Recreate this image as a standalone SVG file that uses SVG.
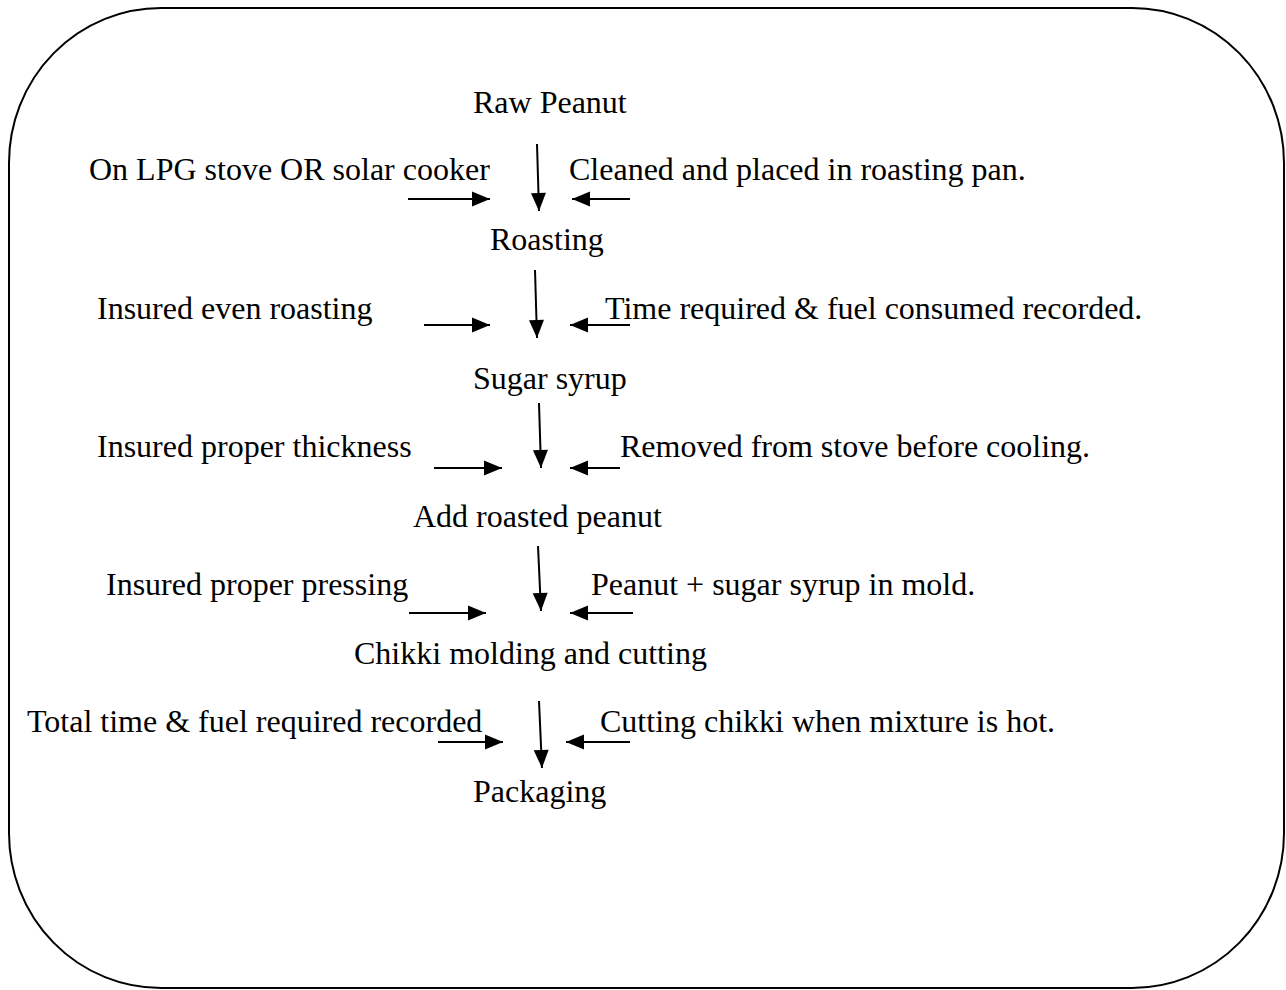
<svg xmlns="http://www.w3.org/2000/svg" width="1286" height="990" viewBox="0 0 1286 990">
<style>
text{font-family:"Liberation Serif","Times New Roman",serif;font-size:32px;fill:#000}
.c{stroke:#000;stroke-width:2;fill:none;marker-end:url(#ah)}
</style>
<defs>
<marker id="ah" markerUnits="userSpaceOnUse" markerWidth="20" markerHeight="16" refX="18" refY="7.5" orient="auto" overflow="visible">
<path d="M0,0 L18,7.5 L0,15 z" fill="#000"/>
</marker>
</defs>
<rect x="9" y="8" width="1275" height="980" rx="152" ry="155" fill="#fff" stroke="#000" stroke-width="2"/>
<g id="raw-peanut"><text x="473" y="113">Raw Peanut</text></g>
<g id="note-lpg"><text x="89" y="180">On LPG stove OR solar cooker</text></g>
<g id="note-cleaned"><text x="569" y="180">Cleaned and placed in roasting pan.</text></g>
<g id="roasting"><text x="490" y="250">Roasting</text></g>
<g id="note-even"><text x="97" y="319">Insured even roasting</text></g>
<g id="note-time"><text x="605" y="319">Time required &amp; fuel consumed recorded.</text></g>
<g id="sugar-syrup"><text x="473" y="389">Sugar syrup</text></g>
<g id="note-thickness"><text x="97" y="457">Insured proper thickness</text></g>
<g id="note-removed"><text x="620" y="457">Removed from stove before cooling.</text></g>
<g id="add-peanut"><text x="413" y="527">Add roasted peanut</text></g>
<g id="note-pressing"><text x="106" y="595">Insured proper pressing</text></g>
<g id="note-mold"><text x="591" y="595">Peanut + sugar syrup in mold.</text></g>
<g id="molding"><text x="354" y="664">Chikki molding and cutting</text></g>
<g id="note-total"><text x="27" y="732">Total time &amp; fuel required recorded</text></g>
<g id="note-cutting"><text x="600" y="732">Cutting chikki when mixture is hot.</text></g>
<g id="packaging"><text x="473" y="802">Packaging</text></g>
<g id="connectors">
<line class="c" x1="408" y1="199" x2="490" y2="199"/>
<line class="c" x1="630" y1="199" x2="572" y2="199"/>
<line class="c" x1="537" y1="144" x2="539" y2="211"/>
<line class="c" x1="424" y1="325" x2="490" y2="325"/>
<line class="c" x1="630" y1="325" x2="570" y2="325"/>
<line class="c" x1="535" y1="270" x2="537" y2="338"/>
<line class="c" x1="434" y1="468" x2="502" y2="468"/>
<line class="c" x1="620" y1="468" x2="570" y2="468"/>
<line class="c" x1="539" y1="403" x2="541" y2="468"/>
<line class="c" x1="409" y1="613" x2="486" y2="613"/>
<line class="c" x1="633" y1="613" x2="570" y2="613"/>
<line class="c" x1="538" y1="546" x2="541" y2="611"/>
<line class="c" x1="438" y1="742" x2="503" y2="742"/>
<line class="c" x1="630" y1="742" x2="566" y2="742"/>
<line class="c" x1="539" y1="701" x2="542" y2="768"/>
</g>
</svg>
